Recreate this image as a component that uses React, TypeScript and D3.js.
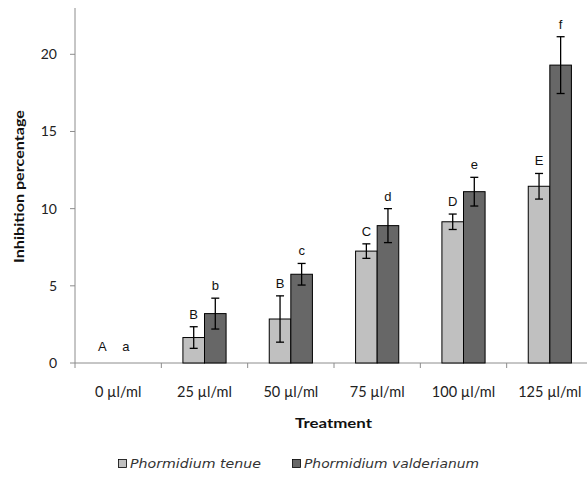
import React, { useEffect, useRef } from 'react';
import * as d3 from 'd3';

const categories = ['0 µl/ml', '25 µl/ml', '50 µl/ml', '75 µl/ml', '100 µl/ml', '125 µl/ml'];
const seriesNames = ['Phormidium tenue', 'Phormidium valderianum'];
const tenueValues = [0, 1.65, 2.85, 7.25, 9.15, 11.45];
const tenueErrors = [0, 0.7, 1.5, 0.47, 0.5, 0.83];
const valderValues = [0, 3.2, 5.75, 8.9, 11.1, 19.3];
const valderErrors = [0, 1.0, 0.7, 1.1, 0.93, 1.84];
const tenueLetters = ['A', 'B', 'B', 'C', 'D', 'E'];
const valderLetters = ['a', 'b', 'c', 'd', 'e', 'f'];
const yTicks = [0, 5, 10, 15, 20];
const colors = ['#c0c0c0', '#676767'];

const W = 587;
const H = 485;

export default function App() {
  const svgRef = useRef<SVGSVGElement>(null);

  useEffect(() => {
    if (!svgRef.current) return;
    const svg = d3.select(svgRef.current);
    svg.selectAll('*').remove();

    const left = 75, right = 593, top = 8, bottom = 363;
    const tickFont = 'Lato, "Open Sans", sans-serif';
    const letterFont = '"Liberation Sans", Arial, sans-serif';

    const x = d3.scaleBand<string>().domain(categories).range([left, right]).padding(0);
    const xs = d3.scaleBand<string>().domain(seriesNames).range([0, x.bandwidth()]).paddingInner(0).paddingOuter(1);
    const y = d3.scaleLinear().domain([0, 23]).range([bottom, top]);

    const series = [
      { name: seriesNames[0], values: tenueValues, errors: tenueErrors, letters: tenueLetters, color: colors[0] },
      { name: seriesNames[1], values: valderValues, errors: valderErrors, letters: valderLetters, color: colors[1] },
    ];

    // y axis
    svg.append('line')
      .attr('x1', left).attr('x2', left).attr('y1', top).attr('y2', bottom)
      .attr('stroke', '#8c8c8c').attr('stroke-width', 1);
    yTicks.forEach(t => {
      svg.append('line')
        .attr('x1', left - 5).attr('x2', left).attr('y1', y(t)).attr('y2', y(t))
        .attr('stroke', '#8c8c8c');
      svg.append('text')
        .attr('x', left - 18).attr('y', y(t)).attr('dy', '0.35em')
        .attr('text-anchor', 'end')
        .style('font-family', tickFont).style('font-size', '14px').attr('fill', '#222')
        .text(t);
    });

    // x axis
    svg.append('line')
      .attr('x1', left).attr('x2', right).attr('y1', bottom).attr('y2', bottom)
      .attr('stroke', '#8c8c8c');
    categories.forEach(c => {
      const bx = x(c)!;
      svg.append('line')
        .attr('x1', bx).attr('x2', bx).attr('y1', bottom).attr('y2', bottom + 5)
        .attr('stroke', '#8c8c8c');
      svg.append('text')
        .attr('x', bx + x.bandwidth() / 2).attr('y', bottom + 29).attr('dy', '0.35em')
        .attr('text-anchor', 'middle')
        .style('font-family', tickFont).style('font-size', '14.5px').attr('fill', '#222')
        .text(c);
    });

    // bars, error bars and letters
    series.forEach((s, si) => {
      categories.forEach((c, i) => {
        const bx = x(c)! + xs(s.name)!;
        const bw = xs.bandwidth();
        const v = s.values[i];
        const e = s.errors[i];
        if (v > 0) {
          svg.append('rect')
            .attr('x', bx).attr('y', y(v))
            .attr('width', bw).attr('height', y(0) - y(v))
            .attr('fill', s.color).attr('stroke', '#000').attr('stroke-width', 1);
        }
        const cx = bx + bw / 2;
        if (e > 0) {
          svg.append('line')
            .attr('x1', cx).attr('x2', cx).attr('y1', y(v - e)).attr('y2', y(v + e))
            .attr('stroke', '#000').attr('stroke-width', 1.3);
          [v - e, v + e].forEach(ev => {
            svg.append('line')
              .attr('x1', cx - 4).attr('x2', cx + 4).attr('y1', y(ev)).attr('y2', y(ev))
              .attr('stroke', '#000').attr('stroke-width', 1.3);
          });
        }
        const ly = Math.min(y(v + e) - 8, y(0) - 12);
        const lx = v === 0 ? cx - (si === 0 ? 5 : 3) : cx;
        svg.append('text')
          .attr('x', lx).attr('y', ly)
          .attr('text-anchor', 'middle')
          .style('font-family', letterFont).style('font-size', '13px').attr('fill', '#111')
          .text(s.letters[i]);
      });
    });

    // axis titles
    svg.append('text')
      .attr('transform', `translate(24, 186.5) rotate(-90)`)
      .attr('text-anchor', 'middle')
      .attr('textLength', 153).attr('lengthAdjust', 'spacingAndGlyphs')
      .style('font-family', tickFont).style('font-size', '13px').style('font-weight', 'bold')
      .attr('fill', '#111')
      .text('Inhibition percentage');

    svg.append('text')
      .attr('x', 295).attr('y', 423).attr('dy', '0.35em')
      .attr('textLength', 77).attr('lengthAdjust', 'spacingAndGlyphs')
      .style('font-family', tickFont).style('font-size', '13.5px').style('font-weight', 'bold')
      .attr('fill', '#111')
      .text('Treatment');

    // legend
    const legendPos = [118, 292];
    const legendLen = [131, 175];
    series.forEach((s, i) => {
      const g = svg.append('g').attr('transform', `translate(${legendPos[i]}, 464)`);
      g.append('rect')
        .attr('x', 0.5).attr('y', -4.5).attr('width', 8).attr('height', 8)
        .attr('fill', s.color).attr('stroke', '#000').attr('stroke-width', 0.8);
      g.append('text')
        .attr('x', 12).attr('y', 0).attr('dy', '0.35em')
        .attr('textLength', legendLen[i]).attr('lengthAdjust', 'spacingAndGlyphs')
        .style('font-family', '"DejaVu Sans", sans-serif').style('font-size', '12px').style('font-style', 'italic')
        .attr('fill', '#333')
        .text(s.name);
    });
  }, []);

  return (
    <svg
      ref={svgRef}
      width={W}
      height={H}
      style={{ position: 'absolute', left: 0, top: 0, background: '#fff' }}
    />
  );
}
